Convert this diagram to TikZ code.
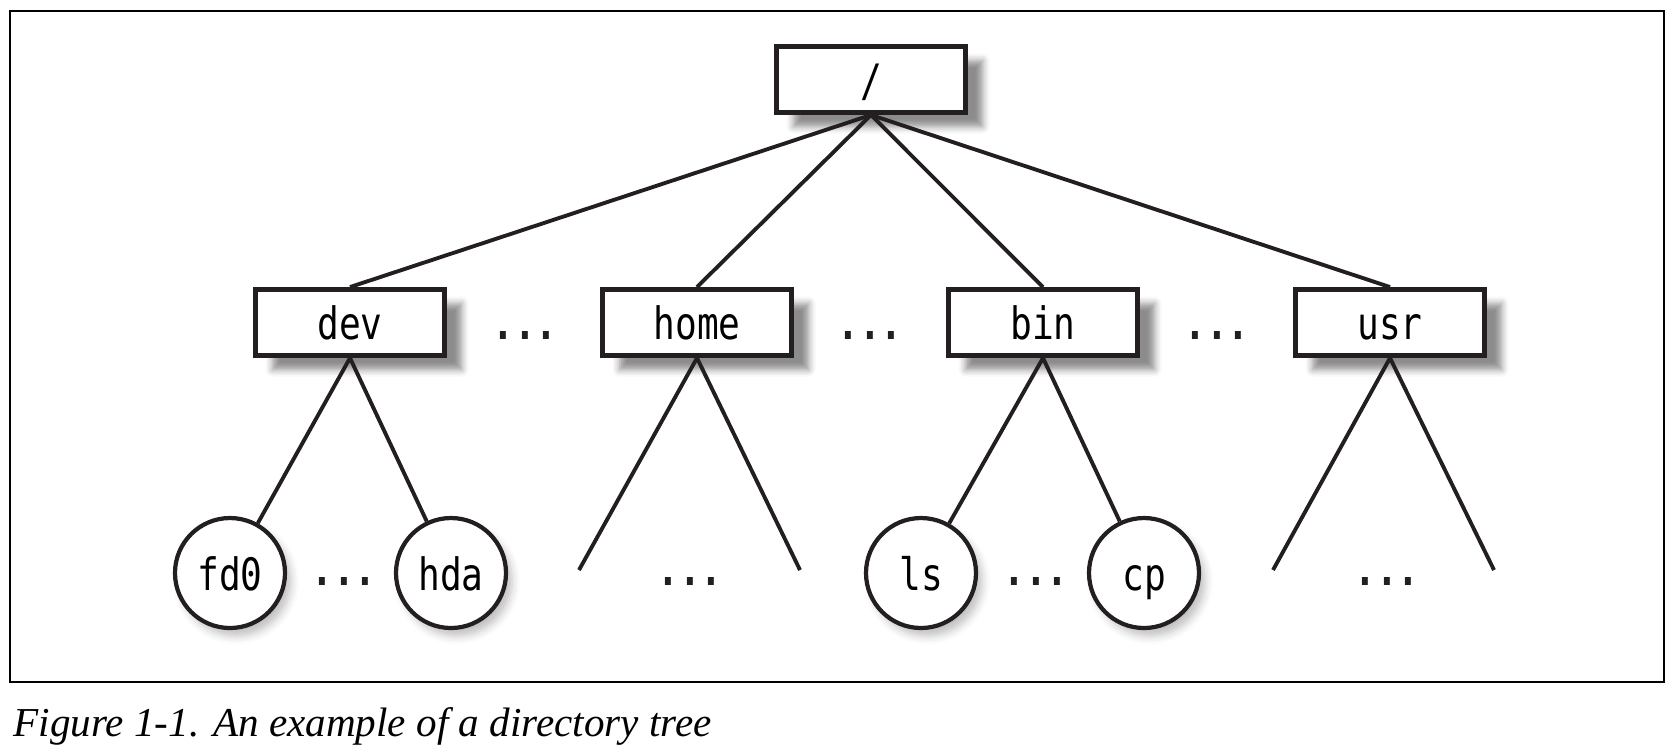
\documentclass[tikz,border=0pt]{standalone}
\usepackage{fontspec}
\setmainfont{Liberation Serif}
\newfontfamily\dirfont[FakeStretch=0.81]{DejaVu Sans Mono}
\newcommand{\dirsize}{\dirfont\fontsize{12.7}{15}\selectfont}
\definecolor{inkblack}{RGB}{35,31,32}
\usetikzlibrary{shadows.blur}

\begin{document}
\begin{tikzpicture}[
  dirbox/.style={draw=inkblack,line width=1.4pt,fill=white,inner sep=0pt,
    minimum width=1.89cm,minimum height=0.66cm,font=\dirsize,
    text height=0.34cm,text depth=0pt,
    blur shadow={shadow xshift=0.17cm,shadow yshift=-0.14cm,
      shadow blur radius=0.07cm,shadow opacity=45}},
  filenode/.style={circle,draw=inkblack,line width=1.2pt,fill=white,inner sep=0pt,
    minimum size=1.10cm,font=\dirsize,text height=0.34cm,text depth=0pt,
    blur shadow={shadow xshift=0.06cm,shadow yshift=-0.08cm,
      shadow blur radius=0.08cm,shadow opacity=25}},
  branch/.style={draw=inkblack,line width=1.1pt},
  dots/.style={font=\dirsize\bfseries,text=inkblack,inner sep=0pt,anchor=base}]
  \useasboundingbox (0,0) rectangle (16.8,-7.52);
  \draw[line width=0.5pt] (0.10,-0.11) rectangle (16.64,-6.82);

  % tree
  \node[dirbox] (root) at (8.71,-0.795) {/};
  \node[dirbox] (dev)  at (3.50,-3.225) {dev};
  \node[dirbox] (home) at (6.97,-3.225) {home};
  \node[dirbox] (bin)  at (10.43,-3.225) {bin};
  \node[dirbox] (usr)  at (13.90,-3.225) {usr};

  \node[filenode] (fd0) at (2.30,-5.73) {fd0};
  \node[filenode] (hda) at (4.51,-5.73) {hda};
  \node[filenode] (ls)  at (9.21,-5.73) {ls};
  \node[filenode] (cp)  at (11.44,-5.73) {cp};

  \coordinate (homeL) at (5.79,-5.70);
  \coordinate (homeR) at (8.00,-5.70);
  \coordinate (usrL)  at (12.73,-5.70);
  \coordinate (usrR)  at (14.94,-5.70);

  \foreach \c in {dev,home,bin,usr}
    \draw[branch] (root.south) -- (\c.north);
  \draw[branch] (fd0) -- (dev.south) -- (hda);
  \draw[branch] (homeL) -- (home.south) -- (homeR);
  \draw[branch] (ls) -- (bin.south) -- (cp);
  \draw[branch] (usrL) -- (usr.south) -- (usrR);

  % elided entries
  \foreach \i/\x/\y in {1/5.25/-3.395, 2/8.70/-3.395, 3/12.17/-3.395,
      4/3.44/-5.855, 5/6.90/-5.855, 6/10.36/-5.855, 7/13.87/-5.855}
    \node[dots] (dots\i) at (\x,\y) {...};

  \node[anchor=base west,inner sep=0pt,font=\itshape\fontsize{11.7}{14}\selectfont]
    (caption) at (0.13,-7.36) {Figure 1-1. An example of a directory tree};
\end{tikzpicture}
\end{document}
